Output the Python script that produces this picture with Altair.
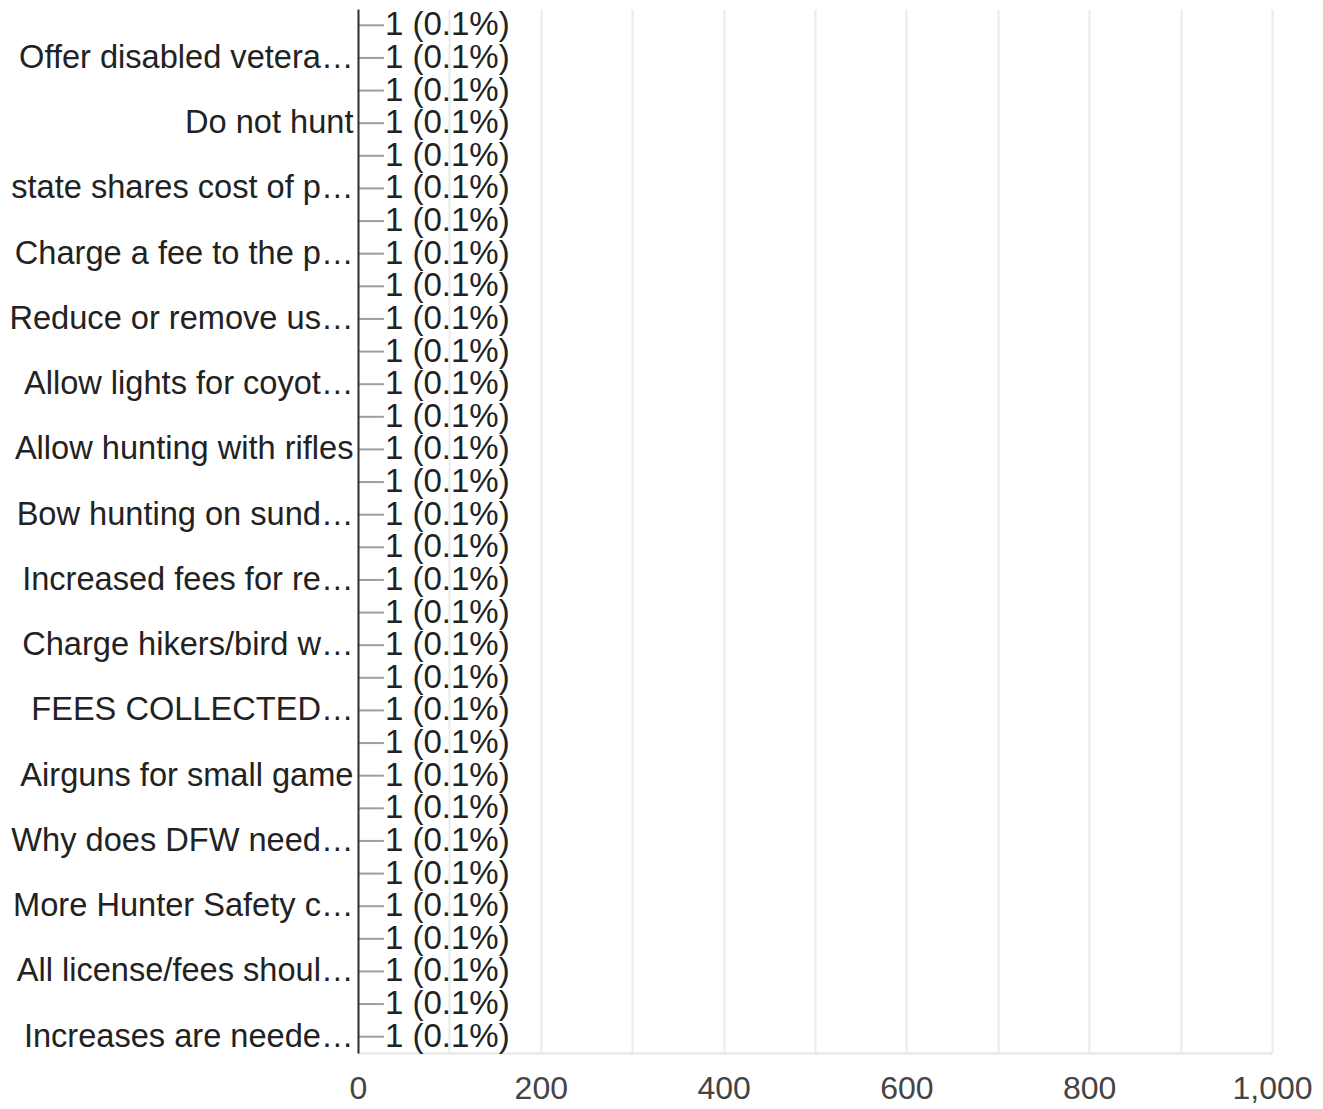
import altair as alt
import pandas as pd

# Top-to-bottom order of responses (odd rows have hidden axis labels in the reference)
categories = [
    "Other response A", "Offer disabled vetera…",
    "Other response B", "Do not hunt",
    "Other response C", "state shares cost of p…",
    "Other response D", "Charge a fee to the p…",
    "Other response E", "Reduce or remove us…",
    "Other response F", "Allow lights for coyot…",
    "Other response G", "Allow hunting with rifles",
    "Other response H", "Bow hunting on sund…",
    "Other response I", "Increased fees for re…",
    "Other response J", "Charge hikers/bird w…",
    "Other response K", "FEES COLLECTED…",
    "Other response L", "Airguns for small game",
    "Other response M", "Why does DFW need…",
    "Other response N", "More Hunter Safety c…",
    "Other response O", "All license/fees shoul…",
    "Other response P", "Increases are neede…",
]
counts = [1] * 32
percents = [0.1] * 32
visible_labels = categories[1::2]
x_ticks = [0, 100, 200, 300, 400, 500, 600, 700, 800, 900, 1000]

df = pd.DataFrame({
    "category": categories,
    "count": counts,
    "pct": percents,
})
df["label"] = [f"{c} ({p}%)" for c, p in zip(counts, percents)]

FONT = "Liberation Sans"
vis_js = "[" + ",".join("'" + v.replace("'", "\\'") + "'" for v in visible_labels) + "]"

y_enc = alt.Y(
    "category:N",
    sort=categories,
    title=None,
    axis=alt.Axis(
        labelExpr=f"indexof({vis_js}, datum.value) >= 0 ? datum.value : ''",
        labelFontSize=32.6,
        labelColor="#222222",
        labelFont=FONT,
        labelLimit=1000,
        labelPadding=5,
        ticks=False,
        domain=True,
        domainColor="#333333",
        domainWidth=2,
        grid=False,
        minExtent=349,
        maxExtent=349,
        zindex=1,
    ),
)

x_scale = alt.Scale(domain=[0, 1000], nice=False)
x_axis = alt.Axis(
    values=x_ticks,
    labelExpr="datum.value % 200 == 0 ? format(datum.value, ',') : ''",
    labelFontSize=32,
    labelColor="#444444",
    labelFont=FONT,
    labelPadding=20,
    labelFlush=False,
    ticks=False,
    domain=True,
    domainColor="#e6e6e6",
    domainWidth=2,
    grid=True,
    gridColor="#ebebeb",
    gridWidth=2,
    title=None,
)

base = alt.Chart(df)

bars = base.mark_bar(color="#4285f4", height=20).encode(
    x=alt.X("count:Q", scale=x_scale, axis=x_axis),
    y=y_enc,
)

leaders = base.mark_rule(color="#9e9e9e", strokeWidth=2, x2Offset=25).encode(
    x=alt.X("count:Q", scale=x_scale, axis=x_axis),
    x2="count:Q",
    y=y_enc,
)

labels = base.mark_text(
    align="left", baseline="middle", dx=26, fontSize=33, font=FONT, color="#222222"
).encode(
    x=alt.X("count:Q", scale=x_scale, axis=x_axis),
    y=y_enc,
    text="label:N",
)

chart = (
    alt.layer(bars, leaders, labels)
    .properties(width=914, height=1044, padding=0)
    .configure_view(stroke=None)
    .configure_scale(bandPaddingInner=0.2)
)

chart.save("out.html", embed_options={"renderer": "svg", "actions": False})
